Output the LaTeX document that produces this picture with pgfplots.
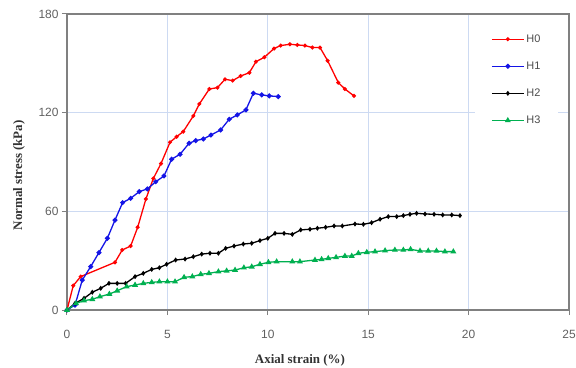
\documentclass[border=0pt]{standalone}
\usepackage{pgfplots}
\pgfplotsset{compat=1.18}
\usepackage{fontspec}
\setmainfont{Liberation Serif}
\newfontfamily\tickfont{Liberation Sans}
\definecolor{gridblue}{RGB}{205,218,242}
\definecolor{axgray}{RGB}{128,128,128}
\definecolor{hgreen}{RGB}{0,176,80}
\definecolor{hblue}{RGB}{20,20,230}
\begin{document}
\begin{tikzpicture}
\begin{axis}[
  scale only axis,
  width=502bp, height=296bp,
  xmin=0, xmax=25, ymin=0, ymax=180,
  xtick={0,5,10,15,20,25},
  ytick={0,60,120,180},
  grid=major,
  major grid style={gridblue, line width=0.8bp},
  axis line style={axgray, line width=1.2bp},
  tick style={axgray, line width=1bp},
  tick align=outside,
  major tick length=5bp,
  xtick pos=bottom, ytick pos=left,
  /pgf/number format/assume math mode=true,
  ticklabel style={font=\tickfont\fontsize{12}{12}\selectfont, text=black!62},
  xticklabel style={yshift=-12bp},
  yticklabel style={xshift=0bp},
  xlabel={Axial strain (\%)},
  ylabel={Normal stress (kPa)},
  label style={font=\bfseries\fontsize{13}{13}\selectfont, text=black!80},
  xlabel style={at={(axis description cs:0.464,-0.169)}, anchor=center},
  ylabel style={at={(axis description cs:-0.0956,0.455)}, anchor=center},
  clip=false,
  legend style={at={(rel axis cs:0.8127,0.958)}, anchor=north west, draw=none, fill=white,
    font=\tickfont\fontsize{11}{11}\selectfont, text=black!70, inner xsep=16bp, inner ysep=6bp,
    row sep=14bp},
  legend cell align=left,
  legend image code/.code={\draw[mark repeat=2,mark phase=2] plot coordinates {(0bp,0bp) (16bp,0bp) (32bp,0bp)};},
  every axis plot/.append style={line width=1.3bp},
]
\addplot[red, mark=*, mark size=1.3bp] coordinates {
(0,0) (0.31,14.8) (0.68,20.3) (2.39,29.0) (2.75,36.5) (3.17,38.9) (3.52,50.3) (3.93,67.5)
(4.3,80) (4.68,89) (5.13,102) (5.46,105.4) (5.79,108.5) (6.29,118) (6.59,125.3) (7.09,134.4)
(7.49,135.2) (7.87,140.3) (8.25,139.5) (8.65,142.3) (9.08,144.3) (9.41,151) (9.83,153.7)
(10.31,159) (10.64,160.8) (11.1,161.6) (11.47,161.2) (11.85,160.8) (12.22,159.6) (12.6,159.6)
(12.98,151.6) (13.51,138.3) (13.84,134.4) (14.29,130.2)
};
\addlegendentry{H0}
\addplot[hblue, mark=*, mark size=1.8bp] coordinates {
(0,0) (0.4,3) (0.76,18.2) (1.18,26.4) (1.59,34.9) (2.01,43.6) (2.39,54.7) (2.77,65.3)
(3.17,67.9) (3.6,72) (4.0,73.6) (4.42,78) (4.83,81.5) (5.21,91.7) (5.63,94.7) (6.08,101.4)
(6.41,103) (6.79,104) (7.17,106.4) (7.65,109.5) (8.08,116) (8.48,118.6) (8.91,121.7)
(9.28,131.8) (9.7,130.8) (10.07,130.2) (10.52,129.8)
};
\addlegendentry{H1}
\addplot[black, mark=diamond*, mark size=1.5bp] coordinates {
(0,0) (0.4,4) (0.85,7.1) (1.26,10.8) (1.68,13.2) (2.09,16.2) (2.5,16.2) (2.92,16.2)
(3.39,20.3) (3.8,22.3) (4.22,24.7) (4.6,25.7) (4.96,27.8) (5.41,30.4) (5.88,31) (6.29,32.4)
(6.71,34) (7.12,34.5) (7.54,34.5) (7.9,37.5) (8.32,38.9) (8.78,40.1) (9.2,40.6) (9.61,42.2)
(10.0,43.6) (10.36,46.6) (10.81,46.6) (11.22,46) (11.64,48.7) (12.1,49.1) (12.47,49.7)
(12.88,50.3) (13.3,51.1) (13.71,51.1) (14.34,52.3) (14.76,52.1) (15.17,53.1) (15.59,55.2)
(16.0,56.8) (16.42,56.8) (16.75,57.4) (17.08,58.2) (17.41,58.8) (17.83,58.4) (18.28,58.2)
(18.71,57.8) (19.16,57.8) (19.57,57.4)
};
\addlegendentry{H2}
\addplot[hgreen, mark=triangle*, mark size=2.2bp] coordinates {
(0,0) (0.45,4) (0.85,5.7) (1.26,6.5) (1.64,8.1) (2.11,9.7) (2.5,11.7) (2.97,14.2)
(3.39,15.2) (3.8,16.2) (4.22,16.8) (4.6,17.2) (5.0,17.2) (5.38,17.2) (5.83,19.9) (6.24,20.3)
(6.66,21.7) (7.07,22.3) (7.54,23.3) (7.95,23.8) (8.37,24.3) (8.81,25.7) (9.2,26.3) (9.61,27.8)
(10.03,29) (10.44,29.4) (11.22,29.4) (11.6,29.4) (12.35,30.4) (12.68,30.8) (13.01,31.4)
(13.4,32) (13.84,32.8) (14.18,32.8) (14.51,34.5) (14.93,35.1) (15.34,35.5) (15.84,36.1)
(16.33,36.5) (16.75,36.5) (17.11,36.9) (17.58,35.9) (17.99,35.9) (18.4,35.9) (18.82,35.5)
(19.24,35.5)
};
\addlegendentry{H3}
\path (rel axis cs:0,0) coordinate (sw) (rel axis cs:1,1) coordinate (ne);
\end{axis}
\pgfresetboundingbox
\path ([shift={(-67bp,-58bp)}]sw) rectangle ([shift={(7bp,14bp)}]ne);
\end{tikzpicture}
\end{document}
